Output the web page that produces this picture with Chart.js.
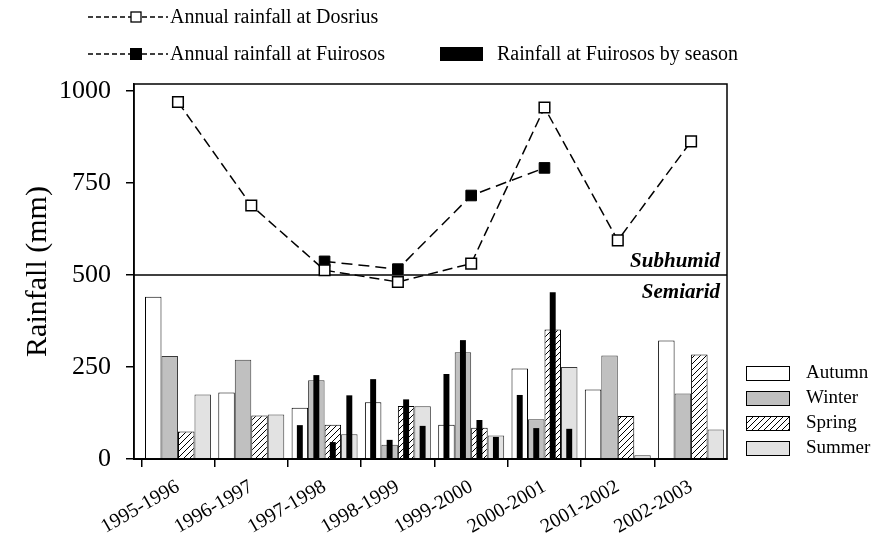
<!DOCTYPE html>
<html><head><meta charset="utf-8">
<script src="https://cdn.jsdelivr.net/npm/chart.js@4/dist/chart.umd.min.js"></script>
<style>html,body{margin:0;padding:0;background:#fff}#wrap{width:877px;height:538px;position:relative}</style>
</head><body><div id="wrap"><canvas id="c" width="877" height="538"></canvas></div>
<script>
// ---- data ----
const categories = ['1995-1996','1996-1997','1997-1998','1998-1999','1999-2000','2000-2001','2001-2002','2002-2003'];
const dosriusAnnual  = [970, 689, 513, 481, 531, 955, 594, 863];
const fuirososAnnual = [null, null, 537, 516, 716, 791, null, null];
const autumn = [441, 181, 139, 154, 93, 246, 189, 322];
const winter = [280, 270, 214, 39, 290, 108, 281, 178];
const spring = [75, 118, 93, 144, 85, 352, 117, 284];
const summer = [175, 121, 67, 143, 64, 250, 10, 80];
const fAutumn = [null, null, 92, 217, 231, 174, null, null];
const fWinter = [null, null, 228, 52, 323, 84, null, null];
const fSpring = [null, null, 46, 162, 106, 453, null, null];
const fSummer = [null, null, 173, 90, 60, 82, null, null];
const yTicks = [0, 250, 500, 750, 1000];
const seasonNames = ['Autumn', 'Winter', 'Spring', 'Summer'];
const legendTop = ['Annual rainfall at Dosrius', 'Annual rainfall at Fuirosos', 'Rainfall at Fuirosos by season'];
const zoneLabels = ['Subhumid', 'Semiarid'];
const zoneBoundary = 500;

const SERIF = '"Liberation Serif", "Times New Roman", serif';

function makeHatch() {
  const c = document.createElement('canvas'); c.width = 6; c.height = 6;
  const g = c.getContext('2d');
  g.fillStyle = '#fff'; g.fillRect(0, 0, 6, 6);
  g.strokeStyle = '#000'; g.lineWidth = 1;
  g.beginPath();
  g.moveTo(0, 6); g.lineTo(6, 0);
  g.moveTo(-1, 1); g.lineTo(1, -1);
  g.moveTo(5, 7); g.lineTo(7, 5);
  g.stroke();
  return g.createPattern(c, 'repeat');
}
const hatch = makeHatch();

const pts = arr => arr.map((v, i) => ({x: i, y: v}));
const seasonStyle = [
  {bg: '#ffffff', bc: '#000000'},
  {bg: '#c0c0c0', bc: '#3a3a3a'},
  {bg: hatch,     bc: '#000000'},
  {bg: '#e2e2e2', bc: '#3a3a3a'}
];
const seasonData = [autumn, winter, spring, summer];
const fData = [fAutumn, fWinter, fSpring, fSummer];
const stackIds = ['s0', 's1', 's2', 's3'];

const datasets = [
  {type: 'line', label: legendTop[0], data: pts(dosriusAnnual), xAxisID: 'x', yAxisID: 'y',
   borderColor: '#000', borderWidth: 1.5, borderDash: [10, 5], fill: false,
   pointStyle: 'rect', pointRadius: 7.5, pointBackgroundColor: '#fff', pointBorderColor: '#000', pointBorderWidth: 1.5},
  {type: 'line', label: legendTop[1], data: pts(fuirososAnnual), xAxisID: 'x', yAxisID: 'y',
   borderColor: '#000', borderWidth: 1.5, borderDash: [11, 6], fill: false,
   pointStyle: 'rect', pointRadius: 7.5, pointBackgroundColor: '#000', pointBorderColor: '#000', pointBorderWidth: 1}
];
fData.forEach((d, i) => datasets.push({
  type: 'bar', label: 'F ' + seasonNames[i], data: pts(d), xAxisID: 'x', yAxisID: 'y', stack: stackIds[i],
  backgroundColor: '#000', borderWidth: 0, categoryPercentage: 0.9, barPercentage: 0.36
}));
seasonData.forEach((d, i) => datasets.push({
  type: 'bar', label: seasonNames[i], data: pts(d), xAxisID: 'x', yAxisID: 'y', stack: stackIds[i],
  backgroundColor: seasonStyle[i].bg, borderColor: seasonStyle[i].bc, borderWidth: 1,
  categoryPercentage: 0.9, barPercentage: 1
}));

const annot = {
  id: 'annot',
  beforeDatasetsDraw(chart) {
    const {ctx, chartArea: a, scales: {y}} = chart;
    const yy = y.getPixelForValue(zoneBoundary);
    ctx.save();
    ctx.strokeStyle = '#000'; ctx.lineWidth = 1.5;
    ctx.beginPath(); ctx.moveTo(a.left, yy); ctx.lineTo(a.right, yy); ctx.stroke();
    ctx.fillStyle = '#000';
    ctx.font = 'italic bold 21px ' + SERIF;
    ctx.textAlign = 'right';
    ctx.textBaseline = 'alphabetic';
    ctx.fillText(zoneLabels[0], a.right - 7, yy - 8);
    ctx.textBaseline = 'top';
    ctx.fillText(zoneLabels[1], a.right - 7, yy + 7);
    ctx.restore();
  },
  afterDraw(chart) {
    const {ctx, chartArea: a} = chart;
    ctx.save();
    ctx.strokeStyle = '#000'; ctx.lineWidth = 1.5;
    ctx.strokeRect(a.left, a.top, a.right - a.left, a.bottom - a.top);
    // top legend
    ctx.font = '20px ' + SERIF; ctx.fillStyle = '#000';
    ctx.textAlign = 'left'; ctx.textBaseline = 'middle';
    const rows = [17, 54];
    rows.forEach((ry, i) => {
      ctx.lineWidth = 1.6; ctx.setLineDash([5, 3]);
      ctx.beginPath(); ctx.moveTo(88, ry); ctx.lineTo(131, ry); ctx.moveTo(142, ry); ctx.lineTo(168, ry); ctx.stroke();
      ctx.setLineDash([]);
      if (i === 0) { ctx.fillStyle = '#fff'; ctx.fillRect(131, ry - 5, 10, 10); ctx.lineWidth = 1.3; ctx.strokeRect(131, ry - 5, 10, 10); }
      else { ctx.fillStyle = '#000'; ctx.fillRect(130, ry - 6, 12, 12); }
      ctx.fillStyle = '#000';
      ctx.fillText(legendTop[i], 170, ry + 1);
    });
    ctx.fillRect(440, 47, 43, 14);
    ctx.fillText(legendTop[2], 497, 55);
    // season legend
    ctx.font = '19px ' + SERIF;
    const sy = [366, 391, 416, 441];
    seasonNames.forEach((n, i) => {
      ctx.fillStyle = seasonStyle[i].bg;
      ctx.fillRect(746, sy[i], 43, 14);
      ctx.lineWidth = 1; ctx.strokeStyle = '#000';
      ctx.strokeRect(746.5, sy[i] + 0.5, 43, 14);
      ctx.fillStyle = '#000';
      ctx.fillText(n, 806, sy[i] + 7);
    });
    ctx.restore();
  }
};

const XMIN = -0.6, XMAX = 7.49;
new Chart(document.getElementById('c'), {
  type: 'bar',
  data: {datasets},
  plugins: [annot],
  options: {
    responsive: false, animation: false, devicePixelRatio: 1,
    layout: {padding: {top: 84, right: 150, left: 0, bottom: 0}},
    plugins: {legend: {display: false}, tooltip: {enabled: false}},
    scales: {
      x: {
        type: 'linear', min: XMIN, max: XMAX, offset: false,
        afterFit: s => { s.height = 79; },
        afterBuildTicks: s => { s.ticks = categories.map((c, i) => ({value: i})); },
        grid: {drawOnChartArea: false, drawTicks: true, tickLength: 8, color: '#000', lineWidth: 1.5},
        border: {display: true, color: '#000', width: 2},
        ticks: {autoSkip: false, minRotation: 30, maxRotation: 30, padding: 8, color: '#000',
                font: {family: SERIF, size: 20}, callback: v => categories[v] ?? ''}
      },
      y: {
        type: 'linear', min: 0, max: 1019, stacked: false,
        afterFit: s => { s.width = 134; },
        afterBuildTicks: s => { s.ticks = yTicks.map(v => ({value: v})); },
        grid: {drawOnChartArea: false, drawTicks: true, tickLength: 8, color: '#000', lineWidth: 1.5},
        border: {display: true, color: '#000', width: 1.5},
        ticks: {padding: 15, color: '#000', font: {family: SERIF, size: 26}, callback: v => String(v)},
        title: {display: true, text: 'Rainfall (mm)', color: '#000', font: {family: SERIF, size: 30}, padding: {top: 20, bottom: 0}}
      }
    }
  }
});
</script></body></html>
